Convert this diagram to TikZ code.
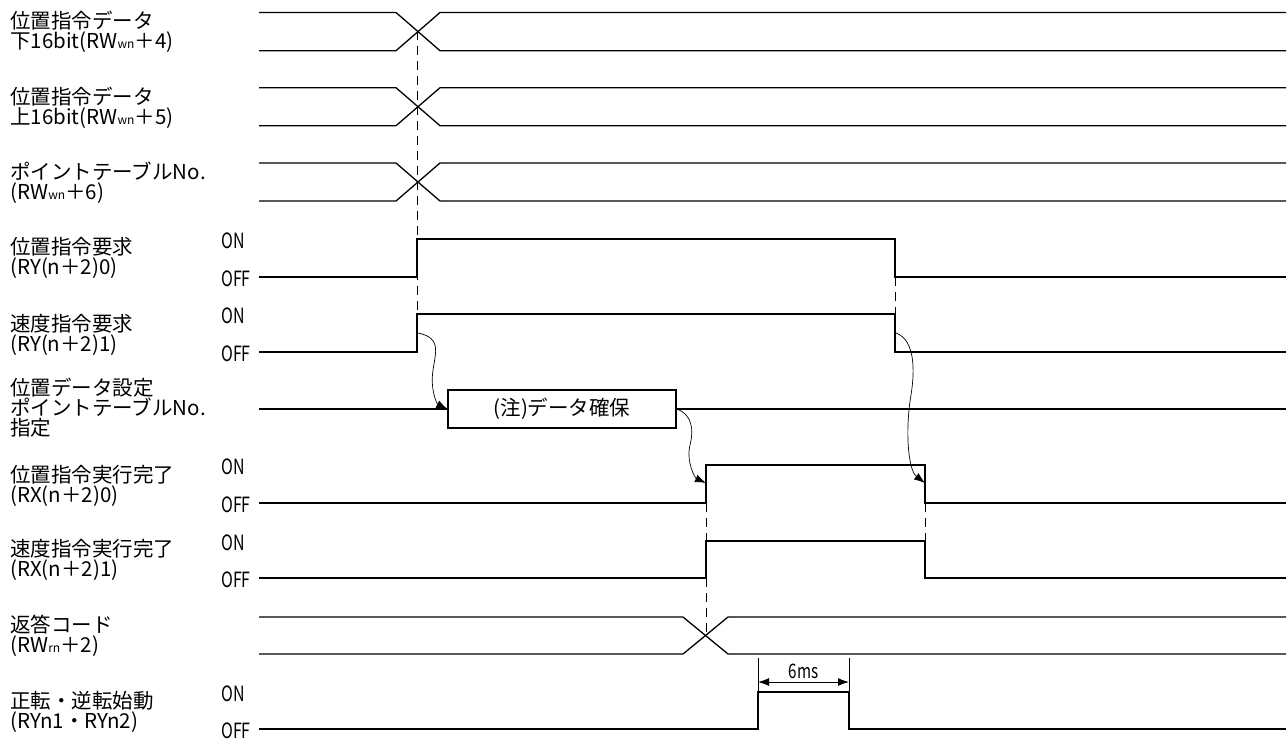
\documentclass[tikz,border=0pt]{standalone}
\usepackage{fontspec}
\setmainfont{Noto Sans CJK JP}
\newfontfamily\narrowfont[FakeStretch=0.76]{Noto Sans CJK JP}
\newcommand{\smallidx}[1]{{\fontsize{12}{12}\selectfont #1}}
\usetikzlibrary{positioning,arrows.meta}

\begin{document}
\begin{tikzpicture}[x=1pt,y=-1pt,
        signal/.style={line width=1.3pt},
        bus/.style={line width=2.2pt},
        label/.style={anchor=west,align=left,inner sep=0pt,font=\fontsize{20.5}{20}\selectfont},
        lvl/.style={anchor=west,inner sep=0pt,font=\narrowfont\fontsize{21}{21}\selectfont},
        guide/.style={line width=1pt,dash pattern=on 9pt off 6pt},
        flow/.style={-{Latex[length=11pt,width=8pt]},line width=0.7pt},
        latch/.style={draw,line width=1.3pt,minimum width=228pt,minimum height=38pt,inner sep=0pt,font=\fontsize{20.5}{20}\selectfont},
        dim/.style={{Latex[length=11pt,width=8pt]}-{Latex[length=11pt,width=8pt]},line width=1pt}]
        \useasboundingbox (0,0) rectangle (1287,740);
        % signal names
        \node[label] (posLow) at (10,32) {位置指令データ\\下16bit(RW\smallidx{wn}＋4)};
        \node[label] (posHigh) at (10,108) {位置指令データ\\上16bit(RW\smallidx{wn}＋5)};
        \node[label] (tableNo) at (10,183) {ポイントテーブルNo.\\(RW\smallidx{wn}＋6)};
        \node[label] (posReq) at (10,258) {位置指令要求\\(RY(n＋2)0)};
        \node[label] (spdReq) at (10,335) {速度指令要求\\(RY(n＋2)1)};
        \node[label] (dataSet) at (10,408) {位置データ設定\\ポイントテーブルNo.\\指定};
        \node[label] (posDone) at (10,486) {位置指令実行完了\\(RX(n＋2)0)};
        \node[label] (spdDone) at (10,560) {速度指令実行完了\\(RX(n＋2)1)};
        \node[label] (answer) at (10,636) {返答コード\\(RW\smallidx{rn}＋2)};
        \node[label] (start) at (10,712) {正転・逆転始動\\(RYn1・RYn2)};
        % ON/OFF levels
        \foreach \on/\off in {239/277,314/352,465/503,541/578,692/729} {
            \node[lvl] (on\on) at (221,\on+2) {ON};
            \node[lvl] (off\off) at (221,\off+2) {OFF};
        }
        % data words
        \foreach \hi/\lo in {12.5/50.7,87.7/125.7,163/201} {
            \draw[signal] (259,\hi) -- (396,\hi) -- (440,\lo) -- (1286,\lo);
            \draw[signal] (259,\lo) -- (396,\lo) -- (440,\hi) -- (1286,\hi);
        }
        % requests
        \draw[signal] (259,277) -- (417,277) -- (417,239) -- (895,239) -- (895,277) -- (1286,277);
        \draw[signal] (259,352) -- (417,352) -- (417,314) -- (895,314) -- (895,352) -- (1286,352);
        % data latch
        \node[latch] (hold) at (562,409) {(注)データ確保};
        \draw[bus] (259,409) -- (hold.west);
        \draw[bus] (hold.east) -- (1286,409);
        % completions
        \draw[signal] (259,503) -- (706,503) -- (706,465) -- (925,465) -- (925,503) -- (1286,503);
        \draw[signal] (259,578) -- (706,578) -- (706,541) -- (925,541) -- (925,578) -- (1286,578);
        % answer code
        \draw[signal] (259,617) -- (683,617) -- (728,654) -- (1286,654);
        \draw[signal] (259,654) -- (683,654) -- (728,617) -- (1286,617);
        % start pulse
        \draw[signal] (259,729) -- (758,729) -- (758,692) -- (849,692) -- (849,729) -- (1286,729);
        % dashed guides
        \draw[guide] (417,31) -- (417,314);
        \draw[guide] (895,277) -- (895,314);
        \draw[guide] (706,503) -- (706,635);
        \draw[guide] (925,503) -- (925,541);
        % causal arrows
        \coordinate (s1) at (418,333);
        \coordinate (e2) at (706,483);
        \coordinate (s3) at (896,333);
        \coordinate (e3) at (925,483);
        \draw[flow] (s1) .. controls (441,338) and (436,350) .. (433,370) .. controls (430,390) and (437,404) .. (hold.west);
        \draw[flow] (hold.east) .. controls (692,414) and (694,430) .. (690,445) .. controls (686,462) and (695,478) .. (e2);
        \draw[flow] (s3) .. controls (915,340) and (915,370) .. (911,395) .. controls (905,430) and (908,470) .. (e3);
        % 6ms width
        \draw[line width=1pt] (758,658) -- (758,692) (849,658) -- (849,692);
        \coordinate (t0) at (758,682);
        \coordinate (t1) at (849,682);
        \draw[dim] (t0) -- node[above,inner sep=3pt,font=\narrowfont\fontsize{20}{20}\selectfont] (width) {6ms} (t1);
    \end{tikzpicture}
\end{document}
